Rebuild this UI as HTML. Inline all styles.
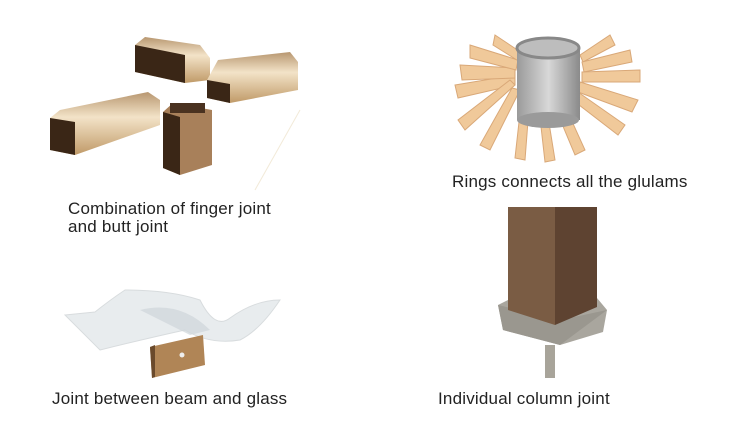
<!DOCTYPE html>
<html><head><style>
html,body{margin:0;padding:0;background:#fff;}
body{width:730px;height:427px;position:relative;overflow:hidden;font-family:"Liberation Sans",sans-serif;}
.t{position:absolute;font-size:17px;color:#222;line-height:18px;white-space:nowrap;letter-spacing:0.2px}
</style></head><body>
<svg width="730" height="427" style="position:absolute;left:0;top:0">
<defs>
<linearGradient id="wood" x1="0" y1="0" x2="0" y2="1"><stop offset="0" stop-color="#b89770"/><stop offset="0.4" stop-color="#f3e3c8"/><stop offset="1" stop-color="#c09a68"/></linearGradient>
<linearGradient id="ring" x1="0" y1="0" x2="1" y2="0"><stop offset="0" stop-color="#9a9a9a"/><stop offset="0.5" stop-color="#d8d8d8"/><stop offset="1" stop-color="#8a8a8a"/></linearGradient>
</defs>
<polygon points="135,45 145,37 200,45 210,58 210,80 185,83 135,72" fill="url(#wood)"/>
<polygon points="135,45 185,55 185,83 135,72" fill="#3a2616"/>
<polygon points="207,80 218,60 290,52 298,62 298,90 230,103 207,98" fill="url(#wood)"/>
<polygon points="207,80 230,84 230,103 207,98" fill="#3a2616"/>
<polygon points="50,118 60,110 148,92 160,100 160,125 75,155 50,150" fill="url(#wood)"/>
<polygon points="50,118 75,122 75,155 50,150" fill="#3a2616"/>
<polygon points="163,112 173,103 212,110 212,165 180,175 163,168" fill="#a8805a"/>
<polygon points="163,112 180,117 180,175 163,168" fill="#3a2616"/>
<rect x="170" y="103" width="35" height="10" fill="#4a3220"/>
<line x1="300" y1="110" x2="255" y2="190" stroke="#f2ead8" stroke-width="1"/>
<g fill="#f0c99a" stroke="#d9a878" stroke-width="1">
<polygon points="455,85 515,75 515,85 458,98"/>
<polygon points="460,65 515,68 515,78 462,80"/>
<polygon points="470,45 518,60 516,70 470,58"/>
<polygon points="495,35 525,55 520,62 493,45"/>
<polygon points="580,55 610,35 615,45 583,62"/>
<polygon points="582,62 630,50 632,62 584,72"/>
<polygon points="582,72 640,70 640,82 582,82"/>
<polygon points="580,82 638,100 632,112 578,92"/>
<polygon points="575,90 625,125 618,135 570,98"/>
<polygon points="560,95 585,150 575,155 552,100"/>
<polygon points="545,98 555,160 545,162 538,100"/>
<polygon points="530,95 525,160 515,158 522,95"/>
<polygon points="520,90 490,150 480,145 512,88"/>
<polygon points="515,85 465,130 458,120 510,80"/>
</g>
<rect x="517" y="48" width="63" height="72" fill="url(#ring)"/>
<ellipse cx="548" cy="120" rx="31" ry="8" fill="#9a9a9a"/>
<ellipse cx="548" cy="48" rx="31" ry="10" fill="#bdbdbd" stroke="#888" stroke-width="3"/>
<path d="M65,315 L95,312 Q110,300 125,290 Q170,290 200,300 Q215,330 230,318 Q255,300 280,300 Q260,330 240,340 Q210,345 185,330 Q140,340 100,350 Q80,330 65,315Z" fill="#e8ecee" stroke="#d8dcde"/>
<path d="M140,310 Q180,300 210,330 L190,335 Z" fill="#cfd6da" opacity="0.7"/>
<polygon points="150,347 203,335 205,365 152,378" fill="#b08556"/>
<polygon points="150,347 155,345 155,377 152,378" fill="#6a4a2c"/>
<circle cx="182" cy="355" r="2.5" fill="#eee"/>
<polygon points="498,305 512,298 597,298 607,310 603,332 560,345 503,330" fill="#a9a69e"/>
<polygon points="498,305 560,320 607,310 560,345 503,330" fill="#9a978f"/>
<rect x="545" y="345" width="10" height="33" fill="#a8a49a"/>
<polygon points="508,207 555,207 555,325 508,310" fill="#7a5c44"/>
<polygon points="555,207 597,207 597,307 555,325" fill="#5e4331"/>
</svg>
<div class="t" style="left:68px;top:200px">Combination of finger joint<br>and butt joint</div>
<div class="t" style="left:452px;top:173px">Rings connects all the glulams</div>
<div class="t" style="left:52px;top:390px">Joint between beam and glass</div>
<div class="t" style="left:438px;top:390px">Individual column joint</div>
</body></html>
